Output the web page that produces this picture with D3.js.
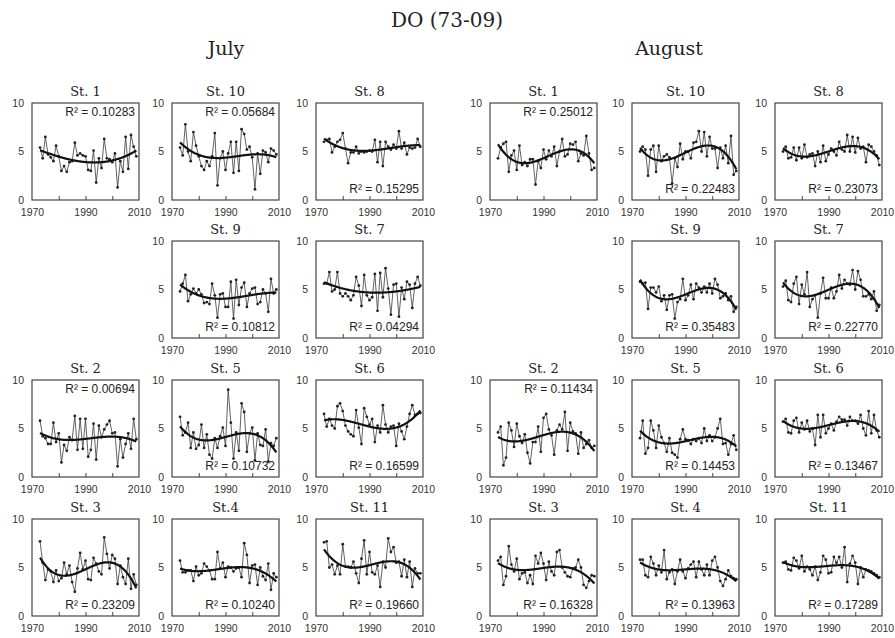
<!DOCTYPE html>
<html><head><meta charset="utf-8">
<script src="https://cdn.jsdelivr.net/npm/d3@7"></script>
<style>body{margin:0;background:#fff}</style>
</head><body><svg id="c" width="895" height="638"></svg>
<script>
// ---- data (DO, 1973-2009) ----
const years = d3.range(1973, 2010);
const xTickLabels = [1970, 1990, 2010];
const xMinorTicks = [1980, 1990, 2000];
const yTickLabels = [0, 5, 10];

const julySt1 = [5.4,4.3,6.5,4.7,4.4,4.0,5.6,4.5,3.0,3.5,2.9,3.9,4.0,5.9,4.6,4.8,4.6,4.5,3.1,3.0,5.1,1.8,4.3,3.3,6.3,4.3,4.2,3.9,4.8,1.3,4.0,2.9,6.5,3.2,6.7,5.5,4.5];
const julySt10 = [5.4,4.6,7.8,5.0,4.0,7.0,5.6,4.5,3.5,3.1,4.0,3.5,4.5,6.9,1.5,4.3,5.0,3.1,4.8,6.0,2.8,6.0,3.0,7.3,6.8,5.2,5.5,4.4,1.1,4.8,2.7,5.1,4.9,3.9,5.3,5.1,4.7];
const julySt8 = [6.0,6.2,6.3,4.9,5.5,6.0,6.2,6.9,5.3,3.8,4.9,4.9,5.5,4.8,5.0,4.9,5.0,5.1,5.0,6.2,3.9,6.0,3.5,6.0,5.5,5.2,5.7,5.3,7.1,5.3,5.9,4.7,5.4,5.3,5.4,6.3,5.5];
const julySt9 = [4.8,5.6,6.5,3.8,4.5,5.1,4.6,5.0,4.5,3.6,3.7,3.5,5.6,4.4,2.1,4.5,4.6,3.2,3.2,5.8,2.0,6.0,3.4,5.2,5.7,3.2,4.6,5.1,5.2,3.5,3.7,5.0,4.6,2.7,6.1,4.6,5.0];
const julySt7 = [5.6,5.6,6.8,4.8,5.0,6.8,4.6,4.3,4.6,4.3,3.9,4.4,6.3,5.4,3.3,6.5,4.4,3.9,4.2,6.6,2.8,6.7,4.2,7.2,5.1,2.4,5.5,5.6,2.2,5.2,4.0,5.8,5.5,3.1,5.6,6.3,5.4];
const julySt2 = [5.8,4.2,4.0,3.4,3.4,5.6,3.6,4.5,1.5,3.3,2.7,4.1,3.8,6.3,2.8,6.0,2.9,6.0,2.1,2.8,5.5,1.8,5.3,4.1,4.9,5.4,5.8,4.5,4.6,1.1,3.9,2.0,3.4,4.5,2.9,6.0,3.9];
const julySt5 = [6.2,4.3,4.6,5.6,3.0,4.6,2.9,3.3,5.4,3.0,4.4,2.3,1.9,4.0,3.0,4.2,5.1,3.2,9.0,5.6,1.9,4.6,2.7,7.6,6.7,2.6,4.5,5.1,1.7,4.5,3.3,3.2,4.9,1.6,3.5,3.2,4.0];
const julySt6 = [6.5,5.2,6.0,5.3,5.0,7.3,7.6,6.8,5.3,4.7,4.4,4.2,6.9,5.1,3.4,7.1,6.2,5.4,6.0,3.6,5.3,4.6,7.4,5.4,4.6,5.2,5.3,3.2,5.5,4.7,3.9,5.2,6.5,7.4,6.4,6.5,6.6];
const julySt3 = [7.7,5.5,3.7,4.8,4.6,3.5,4.7,3.6,3.9,5.5,4.3,5.2,3.5,2.5,4.9,6.5,4.8,5.7,3.8,3.7,6.0,5.4,4.6,4.3,8.1,6.4,4.9,6.3,5.9,3.3,5.2,4.0,3.3,5.9,2.8,4.3,3.2];
const julySt4 = [5.7,4.5,4.5,4.7,4.7,3.6,5.1,4.2,4.4,5.4,5.1,4.7,3.8,3.8,6.6,4.9,5.5,4.0,5.1,5.0,4.6,4.9,5.0,4.0,7.5,6.3,3.4,5.2,5.3,3.2,5.0,4.1,3.7,5.4,2.7,4.4,4.0];
const julySt11 = [7.6,7.7,5.0,5.3,4.3,5.2,4.3,7.4,5.1,5.1,5.0,5.6,4.4,3.4,5.9,7.8,4.3,6.6,4.5,4.3,5.2,3.0,5.6,5.0,8.0,6.6,7.1,5.5,5.6,4.1,5.8,4.0,5.6,3.0,4.9,4.4,4.4];

const augSt1 = [4.3,5.4,5.8,6.0,2.9,4.6,5.1,3.1,5.6,3.6,3.9,3.5,4.2,4.2,1.6,4.0,3.3,5.2,4.2,5.1,4.5,5.5,3.5,5.0,6.3,4.5,4.7,5.8,5.7,6.0,4.0,4.8,4.6,6.6,4.8,3.1,3.3];
const augSt10 = [5.0,5.5,5.2,2.5,5.2,5.6,2.9,5.6,4.0,4.5,4.7,4.4,1.7,4.3,3.4,5.8,4.2,5.0,5.0,4.3,5.9,6.0,7.1,5.0,7.0,4.5,6.5,5.3,5.3,3.3,5.4,4.3,5.6,3.8,6.6,2.6,3.0];
const augSt8 = [5.0,5.5,4.3,4.4,5.4,4.1,5.4,4.3,5.7,4.4,4.7,4.8,3.5,5.0,3.9,5.6,4.0,4.7,5.3,5.0,4.6,6.0,5.2,5.0,6.7,5.0,6.5,4.9,6.4,5.3,5.5,3.9,5.7,5.5,5.0,4.6,3.6];
const augSt9 = [5.8,5.6,5.7,3.0,5.2,5.2,4.7,5.3,3.8,4.4,2.9,4.4,4.5,2.0,3.7,4.0,6.1,3.9,4.4,5.5,4.0,5.6,5.2,4.7,5.3,4.7,5.6,4.6,6.1,5.5,4.1,4.3,4.6,3.9,4.3,2.7,3.2];
const augSt7 = [5.3,5.9,3.9,3.7,5.6,6.3,3.5,5.5,4.5,6.8,3.2,4.0,4.4,2.1,4.6,6.2,4.1,4.1,5.2,4.1,4.8,6.5,5.1,6.0,5.6,5.5,7.0,5.0,6.9,6.0,4.3,4.3,4.5,4.0,4.8,2.8,3.4];
const augSt2 = [4.6,5.2,1.2,2.0,5.6,4.8,3.1,5.5,4.2,3.5,4.4,2.5,1.4,3.6,3.6,5.2,2.6,6.1,6.5,4.9,4.3,2.3,4.8,5.4,4.9,6.7,2.7,5.6,4.7,4.5,2.4,4.6,3.0,3.4,3.8,3.0,3.2];
const augSt5 = [4.0,5.8,2.4,3.0,5.8,4.8,3.0,5.3,4.1,3.5,2.6,4.0,2.5,2.3,2.0,3.9,4.9,3.9,3.8,3.4,3.9,3.7,4.0,3.5,5.0,3.7,4.3,3.7,4.1,5.0,6.0,3.4,3.5,2.3,3.4,4.3,2.8];
const augSt6 = [5.7,6.0,4.6,4.5,5.8,6.1,4.6,5.6,4.9,5.8,4.7,5.0,3.3,6.4,4.1,6.4,4.5,5.0,5.5,4.8,5.7,6.2,5.9,5.9,5.3,6.2,5.8,5.8,5.5,6.4,5.0,4.3,6.8,4.5,6.4,4.8,4.1];
const augSt3 = [5.7,6.1,3.2,4.1,7.2,5.3,4.6,5.9,3.8,4.4,4.5,3.4,4.2,3.3,6.2,5.4,6.5,5.4,3.7,5.6,4.6,4.2,6.6,6.8,5.0,4.5,4.1,4.0,4.9,5.0,5.8,5.0,3.2,2.9,3.6,4.2,4.1];
const augSt4 = [5.8,5.8,4.2,4.0,6.1,5.4,4.2,5.2,4.5,6.8,3.8,4.5,4.8,3.3,4.6,5.8,4.6,3.9,4.9,5.3,5.6,4.0,5.6,4.8,4.2,5.3,4.2,5.7,6.1,5.0,3.6,3.1,3.8,4.7,4.1,3.9,3.8];
const augSt11 = [5.5,5.6,4.8,4.7,6.0,5.7,4.9,6.2,4.6,5.1,4.8,4.2,5.1,3.7,4.5,6.2,5.8,4.4,4.5,6.1,5.5,6.1,5.0,7.1,3.5,5.4,6.2,5.5,3.3,5.0,4.0,4.8,4.7,4.6,4.4,4.2,4.0];

const panels = [
  {m:"July",   row:0,col:0,name:"St. 1", r2:"0.10283",pos:"top",   v:julySt1},
  {m:"July",   row:0,col:1,name:"St. 10",r2:"0.05684",pos:"top",   v:julySt10},
  {m:"July",   row:0,col:2,name:"St. 8", r2:"0.15295",pos:"bottom",v:julySt8},
  {m:"July",   row:1,col:1,name:"St. 9", r2:"0.10812",pos:"bottom",v:julySt9},
  {m:"July",   row:1,col:2,name:"St. 7", r2:"0.04294",pos:"bottom",v:julySt7},
  {m:"July",   row:2,col:0,name:"St. 2", r2:"0.00694",pos:"top",   v:julySt2},
  {m:"July",   row:2,col:1,name:"St. 5", r2:"0.10732",pos:"bottom",v:julySt5},
  {m:"July",   row:2,col:2,name:"St. 6", r2:"0.16599",pos:"bottom",v:julySt6},
  {m:"July",   row:3,col:0,name:"St. 3", r2:"0.23209",pos:"bottom",v:julySt3},
  {m:"July",   row:3,col:1,name:"St.4",  r2:"0.10240",pos:"bottom",v:julySt4},
  {m:"July",   row:3,col:2,name:"St. 11",r2:"0.19660",pos:"bottom",v:julySt11},
  {m:"August", row:0,col:0,name:"St. 1", r2:"0.25012",pos:"top",   v:augSt1},
  {m:"August", row:0,col:1,name:"St. 10",r2:"0.22483",pos:"bottom",v:augSt10},
  {m:"August", row:0,col:2,name:"St. 8", r2:"0.23073",pos:"bottom",v:augSt8},
  {m:"August", row:1,col:1,name:"St. 9", r2:"0.35483",pos:"bottom",v:augSt9},
  {m:"August", row:1,col:2,name:"St. 7", r2:"0.22770",pos:"bottom",v:augSt7},
  {m:"August", row:2,col:0,name:"St. 2", r2:"0.11434",pos:"top",   v:augSt2},
  {m:"August", row:2,col:1,name:"St. 5", r2:"0.14453",pos:"bottom",v:augSt5},
  {m:"August", row:2,col:2,name:"St. 6", r2:"0.13467",pos:"bottom",v:augSt6},
  {m:"August", row:3,col:0,name:"St. 3", r2:"0.16328",pos:"bottom",v:augSt3},
  {m:"August", row:3,col:1,name:"St. 4", r2:"0.13963",pos:"bottom",v:augSt4},
  {m:"August", row:3,col:2,name:"St. 11",r2:"0.17289",pos:"bottom",v:augSt11}
];

// ---- layout ----
const rowTops = [103, 241, 380, 519];
const colLefts = {July:[32,172,316], August:[490,632,775]};
const W = 107, H = 97;
const serif = "'DejaVu Serif', serif";
const sans = "'Liberation Sans', Arial, sans-serif";

const svg = d3.select("#c");
svg.append("text").attr("x",447).attr("y",27).attr("text-anchor","middle")
  .style("font-family",serif).style("font-size","20px").attr("fill","#222").text("DO (73-09)");
svg.append("text").attr("x",226).attr("y",55).attr("text-anchor","middle")
  .style("font-family",serif).style("font-size","19px").attr("fill","#222").text("July");
svg.append("text").attr("x",669).attr("y",55).attr("text-anchor","middle")
  .style("font-family",serif).style("font-size","19px").attr("fill","#222").text("August");

// cubic polynomial least squares (Excel-style trendline)
function cubicFit(xs, ys){
  const n=4, A=[...Array(n)].map(()=>Array(n+1).fill(0));
  xs.forEach((x,k)=>{const t=(x-1991)/18; for(let i=0;i<n;i++){for(let j=0;j<n;j++)A[i][j]+=Math.pow(t,i+j); A[i][n]+=ys[k]*Math.pow(t,i);}});
  for(let i=0;i<n;i++){let p=i;for(let r=i+1;r<n;r++)if(Math.abs(A[r][i])>Math.abs(A[p][i]))p=r;[A[i],A[p]]=[A[p],A[i]];
    for(let r=0;r<n;r++){if(r===i)continue;const f=A[r][i]/A[i][i];for(let c=i;c<=n;c++)A[r][c]-=f*A[i][c];}}
  const c=A.map((row,i)=>row[n]/row[i]);
  return x=>{const t=(x-1991)/18;return c[0]+c[1]*t+c[2]*t*t+c[3]*t*t*t;};
}

panels.forEach(p=>{
  const g = svg.append("g").attr("transform",`translate(${colLefts[p.m][p.col]},${rowTops[p.row]})`);
  const x = d3.scaleLinear().domain([1970,2010]).range([0,W]);
  const y = d3.scaleLinear().domain([0,10]).range([H,0]);

  // labels
  const xa = g.append("g").attr("transform",`translate(0,${H})`)
    .call(d3.axisBottom(x).tickValues(xTickLabels).tickSize(0).tickPadding(9).tickFormat(d3.format("d")));
  xa.select(".domain").remove();
  xa.selectAll("text").style("font-family",sans).style("font-size","10.5px").attr("fill","#333");
  const xm = g.append("g").attr("transform",`translate(0,${H})`)
    .call(d3.axisBottom(x).tickValues(xMinorTicks).tickSizeInner(-4).tickSizeOuter(0).tickFormat(""));
  xm.select(".domain").remove();
  xm.selectAll("line").attr("stroke","#444").attr("stroke-width",1);
  const ya = g.append("g").call(d3.axisLeft(y).tickValues(yTickLabels).tickSize(0).tickPadding(8));
  ya.select(".domain").remove();
  ya.selectAll("text").style("font-family",sans).style("font-size","10.5px").attr("fill","#333");

  g.append("rect").attr("x",0).attr("y",0).attr("width",W).attr("height",H)
    .attr("fill","none").attr("stroke","#444").attr("stroke-width",1.2);

  const pts = years.map((yr,i)=>({yr, v:p.v[i]})).filter(d=>d.v!=null);
  g.append("path").datum(pts).attr("fill","none").attr("stroke","#3a3a3a").attr("stroke-width",0.8)
    .attr("d", d3.line().x(d=>x(d.yr)).y(d=>y(d.v)));
  g.selectAll("circle").data(pts).join("circle").attr("cx",d=>x(d.yr)).attr("cy",d=>y(d.v))
    .attr("r",1.4).attr("fill","#222");

  const f = cubicFit(pts.map(d=>d.yr), pts.map(d=>d.v));
  const tr = d3.range(1973, 2009.01, 0.25);
  g.append("path").datum(tr).attr("fill","none").attr("stroke","#111").attr("stroke-width",2.2)
    .attr("d", d3.line().x(d=>x(d)).y(d=>y(f(d))));

  g.append("text").attr("x",W-4).attr("y",p.pos==="top"?13:H-7).attr("text-anchor","end")
    .style("font-family",sans).style("font-size","12px").attr("fill","#222").text("R² = "+p.r2);

  g.append("text").attr("x",W/2).attr("y",-7).attr("text-anchor","middle")
    .style("font-family",serif).style("font-size","13px").attr("fill","#222").text(p.name);
});
</script></body></html>
